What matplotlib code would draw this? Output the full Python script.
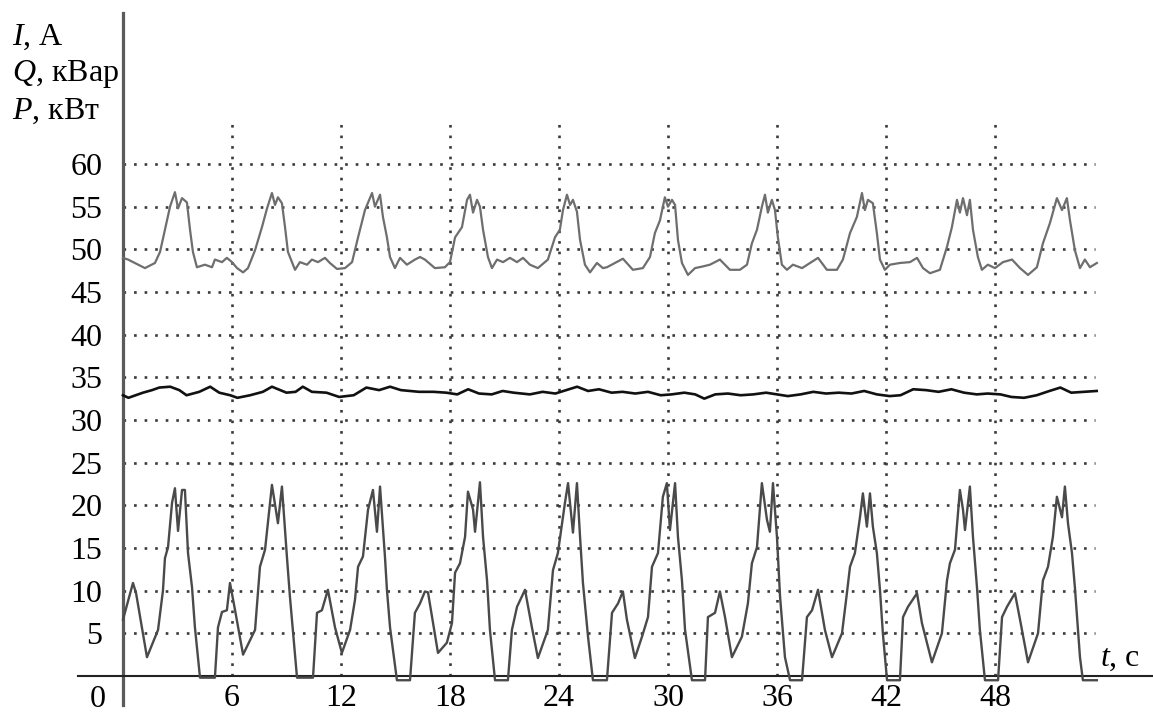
#!/usr/bin/env python3
"""
Oscillogram of current I, reactive power Q and active power P over time.
"""

import matplotlib

matplotlib.use("Agg")
import matplotlib.pyplot as plt

plt.rcParams["font.family"] = ["Liberation Serif", "DejaVu Serif"]
plt.rcParams["mathtext.fontset"] = "custom"
plt.rcParams["mathtext.it"] = "Liberation Serif:italic"
plt.rcParams["mathtext.rm"] = "Liberation Serif"

# --- data -------------------------------------------------------------------
# Current I, A
t_i = [0.0, 0.28, 0.83, 1.21, 1.76, 2.04, 2.31, 2.59, 2.86, 3.03, 3.25, 3.52,
       3.69, 3.85, 4.07, 4.51, 4.90, 5.06, 5.45, 5.72, 6.00, 6.28, 6.61, 6.88,
       7.27, 7.65, 7.93, 8.20, 8.37, 8.53, 8.75, 8.92, 9.08, 9.47, 9.74, 10.13,
       10.40, 10.73, 11.12, 11.39, 11.78, 12.22, 12.61, 12.94, 13.32, 13.71,
       13.87, 14.15, 14.31, 14.53, 14.70, 14.97, 15.25, 15.63, 16.07, 16.35,
       16.62, 17.17, 17.72, 18.00, 18.28, 18.66, 18.94, 19.10, 19.27, 19.49,
       19.65, 19.82, 20.09, 20.31, 20.59, 20.92, 21.30, 21.69, 22.02, 22.40,
       22.84, 23.39, 23.78, 24.05, 24.22, 24.44, 24.61, 24.77, 24.99, 25.16,
       25.43, 25.71, 26.09, 26.42, 26.64, 27.08, 27.52, 28.07, 28.62, 29.01,
       29.28, 29.56, 29.83, 30.00, 30.22, 30.39, 30.55, 30.77, 31.10, 31.49,
       31.93, 32.31, 32.86, 33.41, 33.96, 34.35, 34.62, 34.90, 35.17, 35.34,
       35.50, 35.72, 35.89, 36.05, 36.27, 36.55, 36.88, 37.38, 37.82, 38.26,
       38.75, 39.30, 39.63, 40.02, 40.40, 40.68, 40.84, 41.01, 41.28, 41.50,
       41.67, 41.94, 42.22, 42.77, 43.32, 43.71, 44.04, 44.42, 44.97, 45.36,
       45.63, 45.91, 46.07, 46.24, 46.46, 46.62, 46.79, 47.06, 47.28, 47.61,
       48.00, 48.44, 48.94, 49.38, 49.82, 50.31, 50.64, 51.03, 51.41, 51.69,
       51.96, 52.13, 52.40, 52.68, 52.95, 53.23, 53.61]
i_vals = [49.0, 48.8, 48.2, 47.8, 48.4, 49.7, 52.3, 55.0, 56.7, 54.8, 56.0, 55.5,
          52.3, 49.7, 47.9, 48.2, 47.9, 48.8, 48.5, 49.0, 48.5, 47.8, 47.3, 47.8,
          49.9, 52.6, 54.8, 56.6, 55.2, 56.1, 55.4, 52.6, 49.7, 47.6, 48.5, 48.2,
          48.8, 48.5, 49.0, 48.4, 47.7, 47.8, 48.5, 51.4, 54.6, 56.6,
          55.0, 56.4, 53.8, 51.4, 49.1, 47.8, 49.0, 48.2, 48.8, 49.1,
          48.8, 47.8, 47.9, 48.5, 51.4, 52.6, 55.8, 56.4, 54.3, 55.8,
          55.0, 52.3, 49.1, 47.8, 48.8, 48.5, 49.0, 48.5, 49.0, 48.2,
          47.8, 48.8, 51.4, 52.3, 54.6, 56.4, 55.2, 55.8, 54.4, 51.1,
          48.2, 47.3, 48.4, 47.8, 47.9, 48.4, 48.9, 47.6, 47.8, 49.1,
          51.9, 53.4, 56.1, 55.0, 55.8, 55.2, 51.1, 48.4, 47.0, 47.8,
          48.0, 48.2, 48.8, 47.6, 47.6, 48.2, 50.7, 52.3, 55.0, 56.4,
          54.3, 55.8, 54.6, 51.4, 48.2, 47.6, 48.2, 47.8, 48.4, 49.0,
          47.6, 47.6, 48.8, 51.9, 53.8, 56.6, 54.6, 55.8, 55.4, 51.9,
          48.8, 47.6, 48.2, 48.4, 48.5, 49.0, 47.8, 47.2, 47.6, 50.3,
          52.6, 55.8, 54.3, 56.0, 54.0, 55.8, 52.3, 49.1, 47.6, 48.2,
          47.8, 48.5, 48.8, 47.8, 47.0, 47.9, 50.7, 53.1, 56.0, 54.6,
          56.0, 53.4, 49.9, 47.8, 48.8, 47.9, 48.4]

# Reactive power Q, kvar
t_q = [0.0, 0.3, 0.7, 1.1, 1.6, 2.0, 2.6, 3.1, 3.5, 4.2, 4.8, 5.3, 5.9, 6.3,
       7.0, 7.7, 8.2, 9.0, 9.5, 9.9, 10.4, 11.2, 11.9, 12.7, 13.4, 14.1, 14.7,
       15.3, 16.3, 17.1, 17.8, 18.4, 19.0, 19.6, 20.3, 20.9, 21.5, 22.4, 23.1,
       23.8, 24.4, 25.0, 25.6, 26.2, 26.9, 27.5, 28.2, 28.9, 29.6, 30.2, 30.9,
       31.5, 32.0, 32.6, 33.3, 34.0, 34.7, 35.4, 36.0, 36.6, 37.3, 38.0, 38.7,
       39.4, 40.1, 40.8, 41.5, 42.2, 42.8, 43.5, 44.2, 44.9, 45.6, 46.3, 47.0,
       47.6, 48.3, 48.9, 49.6, 50.3, 51.0, 51.6, 52.2, 52.9, 53.6]
q_vals = [32.9, 32.6, 32.9, 33.2, 33.5, 33.8, 33.9, 33.5, 32.9, 33.3, 33.9, 33.2,
          32.9, 32.6, 32.9, 33.3, 33.9, 33.2, 33.3, 33.9, 33.3, 33.2, 32.7, 32.9,
          33.8, 33.5, 33.9, 33.5, 33.3, 33.3, 33.2, 33.0, 33.6, 33.1, 33.0, 33.4,
          33.2, 33.0, 33.3, 33.1, 33.5, 33.9, 33.4, 33.6, 33.2, 33.3, 33.1, 33.3,
          32.9, 33.0, 33.2, 33.0, 32.5, 33.0, 33.1, 32.9, 33.0, 33.2, 33.0, 32.8,
          33.0, 33.3, 33.1, 33.2, 33.1, 33.4, 33.0, 32.8, 32.9, 33.6, 33.5, 33.3,
          33.6, 33.2, 33.0, 33.1, 33.0, 32.7, 32.6, 32.9, 33.4, 33.8, 33.2, 33.3,
          33.4]

# Active power P, kW
t_p = [0.00, 0.55, 0.72, 1.32, 1.93, 2.20, 2.31, 2.48, 2.70, 2.86, 3.03, 3.25,
       3.41, 3.58, 3.80, 3.96, 4.24, 5.06, 5.23, 5.45, 5.72, 5.89, 6.17, 6.61,
       7.27, 7.54, 7.82, 8.20, 8.53, 8.75, 9.03, 9.19, 9.58, 10.46, 10.68, 10.95,
       11.28, 11.67, 12.05, 12.50, 12.77, 12.94, 13.21, 13.49, 13.76, 13.98,
       14.15, 14.42, 14.53, 14.70, 15.08, 15.80, 16.07, 16.35, 16.62, 16.79,
       17.34, 17.83, 18.11, 18.28, 18.55, 18.83, 18.99, 19.27, 19.38, 19.65,
       19.82, 20.04, 20.20, 20.48, 21.19, 21.41, 21.69, 22.13, 22.51, 22.84,
       23.39, 23.67, 23.94, 24.33, 24.50, 24.77, 24.99, 25.16, 25.32, 25.60,
       25.87, 26.64, 26.92, 27.25, 27.52, 27.74, 28.18, 28.57, 28.90, 29.12,
       29.45, 29.72, 29.94, 30.11, 30.39, 30.55, 30.77, 30.94, 31.32, 32.04,
       32.20, 32.59, 32.86, 33.14, 33.52, 34.07, 34.40, 34.62, 34.90, 35.17,
       35.45, 35.61, 35.78, 36.00, 36.17, 36.44, 36.72, 37.38, 37.65, 37.93,
       38.26, 38.64, 39.03, 39.58, 39.85, 40.02, 40.29, 40.57, 40.73, 40.95,
       41.12, 41.28, 41.50, 41.67, 41.83, 42.06, 42.77, 42.94, 43.21, 43.71,
       43.98, 44.53, 45.08, 45.36, 45.52, 45.80, 46.07, 46.24, 46.35, 46.62,
       46.79, 47.01, 47.17, 47.45, 48.17, 48.39, 48.66, 49.10, 49.38, 49.82,
       50.37, 50.64, 50.92, 51.19, 51.41, 51.69, 51.85, 52.02, 52.24, 52.40,
       52.68, 52.84, 53.61]
p_vals = [6.6, 10.9, 9.7, 2.2, 5.4, 10.0, 13.8, 15.1, 20.3, 22.0, 17.0, 21.8,
          21.8, 14.4, 10.4, 5.7, -0.2, -0.2, 5.7, 7.5, 7.7, 10.9, 7.7, 2.5,
          5.4, 12.8, 14.8, 22.4, 17.9, 22.2, 13.8, 9.3, -0.2, -0.2, 7.4, 7.7,
          10.1, 5.7, 2.7, 5.4, 8.9, 12.8, 14.0, 19.5, 21.8, 16.9,
          22.2, 14.0, 10.1, 5.7, -0.5, -0.5, 7.4, 8.5, 9.9, 9.8,
          2.7, 3.9, 6.2, 12.1, 13.2, 16.3, 21.6, 19.5, 16.9, 22.7,
          16.3, 11.2, 5.4, -0.5, -0.5, 5.4, 8.1, 10.1, 5.7, 2.1,
          5.4, 12.4, 14.4, 20.3, 22.6, 16.8, 22.6, 16.3, 10.9, 4.6,
          -0.5, -0.5, 7.4, 8.5, 9.9, 6.6, 2.1, 4.6, 6.9, 12.8,
          14.4, 21.0, 22.6, 17.1, 22.6, 16.3, 11.2, 5.4, -0.5, -0.5,
          6.9, 7.4, 9.9, 6.9, 2.2, 4.6, 8.5, 13.2, 15.1, 22.6,
          18.3, 16.9, 22.6, 16.3, 9.3, 2.2, -0.5, -0.5, 6.9, 7.7,
          10.1, 5.4, 2.2, 5.0, 9.7, 12.8, 14.4, 18.6, 21.4, 17.5,
          21.4, 17.5, 14.4, 10.1, 5.0, -0.5, -0.5, 6.9, 8.1, 9.7,
          6.2, 1.6, 5.0, 11.2, 13.2, 14.8, 21.8, 19.5, 17.1, 22.2,
          16.3, 10.4, 5.4, -0.5, -0.5, 6.9, 8.1, 9.7, 6.6, 1.6,
          5.0, 11.2, 12.8, 16.3, 21.0, 18.6, 22.2, 17.9, 14.4, 10.4,
          2.2, -0.5, -0.5]

x_ticks = [6, 12, 18, 24, 30, 36, 42, 48]
y_ticks = [5, 10, 15, 20, 25, 30, 35, 40, 45, 50, 55, 60]

# --- figure -----------------------------------------------------------------
fig = plt.figure(figsize=(11.53, 7.13), dpi=100)
ax = fig.add_axes([0, 0, 1, 1])
ax.set_xlim(-6.77, 56.70)
ax.set_ylim(-4.34, 79.22)

dotted = (0, (1, 3))
ax.hlines(y_ticks, 0, 53.5, colors="#3a3a3a", linestyles=dotted, lw=1.9, zorder=1)
ax.vlines(x_ticks, 0, 65.2, colors="#3a3a3a", linestyles=dotted, lw=1.9, zorder=1)

ax.plot(t_i, i_vals, color="#6e6e6e", lw=1.6, zorder=3)
ax.plot(t_q, q_vals, color="#111111", lw=1.9, zorder=3)
ax.plot(t_p, p_vals, color="#4a4a4a", lw=1.7, zorder=3)

# axes through the origin
for side in ["top", "right"]:
    ax.spines[side].set_visible(False)
ax.spines["left"].set_position(("data", 0))
ax.spines["bottom"].set_position(("data", 0))
ax.spines["left"].set_bounds(-3.4, 77.7)
ax.spines["bottom"].set_bounds(-2.5, 56.7)
ax.spines["left"].set_color("#5a5a5a")
ax.spines["left"].set_linewidth(2.3)
ax.spines["bottom"].set_color("#222222")
ax.spines["bottom"].set_linewidth(1.5)

ax.set_xticks(x_ticks)
ax.set_yticks(y_ticks)
ax.tick_params(axis="both", length=0, labelsize=23)
ax.tick_params(axis="y", pad=15)
ax.tick_params(axis="x", pad=6)
ax.text(-1.4, -1.1, "0", fontsize=23, ha="center", va="top")

# axis captions
ax.text(-6.1, 74.0, r"$I$, А", fontsize=23, ha="left", va="baseline")
ax.text(-6.1, 69.7, r"$Q$, кВар", fontsize=23, ha="left", va="baseline")
ax.text(-6.1, 65.3, r"$P$, кВт", fontsize=23, ha="left", va="baseline")
ax.text(54.9, 1.2, r"$t$, с", fontsize=23, ha="center", va="baseline")

plt.savefig("out.png", dpi=100)
plt.close()
